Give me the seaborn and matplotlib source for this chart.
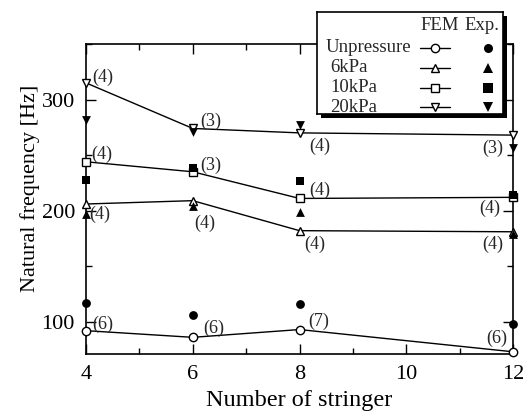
import numpy as np
import pandas as pd
import matplotlib
matplotlib.use("Agg")
import matplotlib.pyplot as plt
from matplotlib.patches import Rectangle
from matplotlib.lines import Line2D
from matplotlib.ticker import MultipleLocator
import seaborn as sns

# ---------------- data ----------------
stringers = [4, 6, 8, 12]
series_names = ["Unpressure", "6kPa", "10kPa", "20kPa"]
fem_unpressure = [92, 86, 93, 73]
exp_unpressure = [117, 106, 116, 98]
fem_6kpa = [206, 209, 182, 181]
exp_6kpa = [197, 204, 199, 179]
fem_10kpa = [244, 235, 211, 212]
exp_10kpa = [228, 238, 227, 214]
fem_20kpa = [315, 274, 270, 268]
exp_20kpa = [282, 271, 277, 256]
modes_unpressure = ["(6)", "(6)", "(7)", "(6)"]
modes_6kpa = ["(4)", "(4)", "(4)", "(4)"]
modes_10kpa = ["(4)", "(3)", "(4)", "(4)"]
modes_20kpa = ["(4)", "(3)", "(4)", "(3)"]
x_ticks = [4, 6, 8, 10, 12]
y_ticks = [100, 200, 300]

# ---------------- style ----------------
sns.set_theme(style="ticks")
plt.rcParams["font.family"] = ["Liberation Serif", "DejaVu Serif"]

markers = {"Unpressure": "o", "6kPa": "^", "10kPa": "s", "20kPa": "v"}
fem = {"Unpressure": fem_unpressure, "6kPa": fem_6kpa, "10kPa": fem_10kpa, "20kPa": fem_20kpa}
exp = {"Unpressure": exp_unpressure, "6kPa": exp_6kpa, "10kPa": exp_10kpa, "20kPa": exp_20kpa}
modes = {"Unpressure": modes_unpressure, "6kPa": modes_6kpa, "10kPa": modes_10kpa, "20kPa": modes_20kpa}
# label offsets in pixels (layout only)
label_offsets = {
    "Unpressure": [(17, 6), (21, 9), (19, 8), (-16, 13)],
    "6kPa": [(14, -10), (12, -23), (15, -14), (-20, -13)],
    "10kPa": [(16, 7), (18, 6), (20, 8), (-23, -11)],
    "20kPa": [(17, 6), (18, 7), (20, -13), (-20, -13)],
}

W, H = 530, 412
fig = plt.figure(figsize=(W / 100, H / 100), dpi=100)
ax = fig.add_axes([86 / W, 1 - 354 / H, (513 - 86) / W, (354 - 44) / H])

for name in series_names:
    df_f = pd.DataFrame({"x": stringers, "y": fem[name]})
    df_e = pd.DataFrame({"x": stringers, "y": exp[name]})
    sns.lineplot(data=df_f, x="x", y="y", ax=ax, color="black", linewidth=1.0,
                 marker=markers[name], markersize=6, markerfacecolor="white",
                 markeredgecolor="black", markeredgewidth=1.0, zorder=3, clip_on=False)
    sns.scatterplot(data=df_e, x="x", y="y", ax=ax, color="black", marker=markers[name],
                    s=40, edgecolor="black", linewidth=0, zorder=4, clip_on=False)
    for xi, yi, lab, off in zip(stringers, fem[name], modes[name], label_offsets[name]):
        ax.annotate(lab, (xi, yi), xytext=off, textcoords="offset pixels",
                    ha="center", va="center", fontsize=13, zorder=5)

ax.set_xlim(4, 12)
ax.set_ylim(71, 350)
ax.set_xticks(x_ticks)
ax.set_yticks(y_ticks)
ax.xaxis.set_minor_locator(MultipleLocator(1))
ax.yaxis.set_minor_locator(MultipleLocator(50))
ax.tick_params(which="both", direction="in", top=True, right=True, color="black",
               width=1.0, labelsize=16, labelcolor="black")
ax.tick_params(which="major", length=7, pad=8)
ax.tick_params(which="minor", length=4)
for s in ax.spines.values():
    s.set_color("black")
    s.set_linewidth(1.2)
ax.set_xlabel("Number of stringer", fontsize=17.5, color="black", labelpad=4)
ax.set_ylabel("Natural frequency [Hz]", fontsize=16, color="black", labelpad=1)
ax.yaxis.label.set_y((354 - 188) / 310)
ax.set_facecolor("white")

# ---------------- legend (table style) ----------------
bx0, by0, bw, bh = 317, 12, 186, 102
shadow = Rectangle(((bx0 + 4) / W, 1 - (by0 + bh + 4) / H), bw / W, bh / H,
                   transform=fig.transFigure, facecolor="black", edgecolor="none", zorder=9)
fig.patches.append(shadow)
lax = fig.add_axes([bx0 / W, 1 - (by0 + bh) / H, bw / W, bh / H], zorder=10)
lax.set_xlim(0, bw)
lax.set_ylim(bh, 0)
lax.set_xticks([])
lax.set_yticks([])
lax.set_facecolor("white")
for s in lax.spines.values():
    s.set_color("black")
    s.set_linewidth(1.2)
lax.text(123, 14, "FEM", ha="center", va="center", fontsize=13.5)
lax.text(165, 14, "Exp.", ha="center", va="center", fontsize=13.5, clip_on=False)
row_y = [36, 56, 76, 95]
row_x = [9, 13, 13, 13]
for name, ry, rx in zip(series_names, row_y, row_x):
    lax.text(rx, ry, name, ha="left", va="center", fontsize=13.5)
    lax.add_line(Line2D([103, 133], [ry, ry], color="black", linewidth=1.0))
    lax.plot([118], [ry], marker=markers[name], markersize=6, markerfacecolor="white",
             markeredgecolor="black", markeredgewidth=1.0, color="black")
    lax.plot([171], [ry], marker=markers[name], markersize=6.5, color="black",
             markeredgewidth=0)

fig.savefig("out.png", dpi=100, facecolor="white")
